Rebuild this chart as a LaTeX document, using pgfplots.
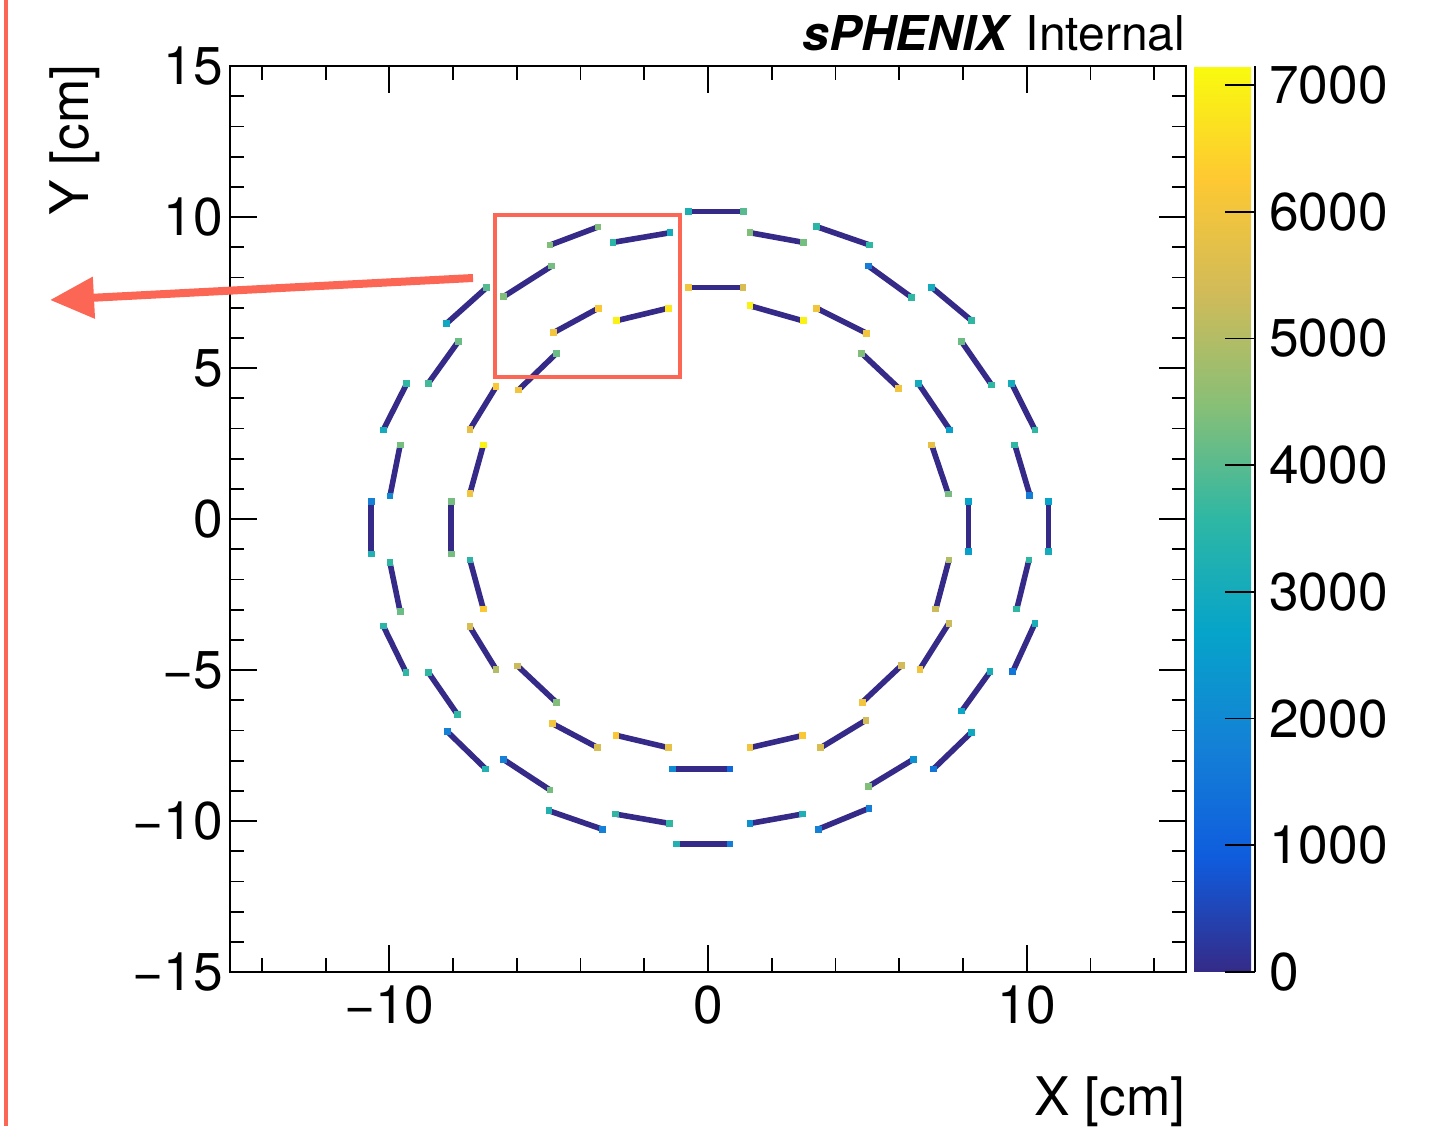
\documentclass[border=0pt]{standalone}
\usepackage{pgfplots}
\pgfplotsset{compat=1.18}
\usepackage{pgfplotstable}
\usepackage{fontspec}
\setmainfont{TeX Gyre Heros}
\usetikzlibrary{arrows.meta}
\definecolor{annot}{RGB}{252,102,84}
\definecolor{ladder}{rgb}{0.2082,0.1664,0.5293}

% each ladder: start point (x1,y1) with end-pixel content m1, end point (x2,y2) with m2
\pgfplotstableread{
x1 y1 m1 x2 y2 m2
-0.62 10.18 3200 1.11 10.18 4000
1.32 9.48 4400 2.99 9.16 4300
3.41 9.68 3500 5.08 9.07 3600
5.03 8.38 1700 6.39 7.34 3600
7.02 7.67 3000 8.27 6.57 3600
7.96 5.87 4200 8.90 4.44 3600
9.53 4.49 3000 10.26 2.95 3600
9.63 2.45 3600 10.10 0.79 1700
10.68 0.57 2700 10.68 -1.08 3000
10.07 -1.36 3600 9.69 -2.98 3600
10.26 -3.45 3100 9.56 -5.06 1500
8.85 -5.06 3100 7.96 -6.36 2800
8.27 -7.06 2900 7.07 -8.28 1500
6.44 -7.96 2200 5.03 -8.86 4400
5.05 -9.58 1700 3.46 -10.27 1800
2.96 -9.77 3200 1.32 -10.08 2200
-1.00 -10.76 3300 0.69 -10.76 1700
-2.91 -9.77 3600 -1.21 -10.08 3600
-4.99 -9.66 3300 -3.32 -10.27 1800
-6.42 -7.96 1800 -4.96 -8.97 4300
-8.18 -7.04 1800 -6.97 -8.28 3300
-8.78 -5.07 3600 -7.87 -6.46 3600
-10.19 -3.54 3500 -9.48 -5.07 3600
-9.98 -1.45 3600 -9.66 -3.07 4200
-10.57 0.57 1800 -10.57 -1.16 3300
-9.98 0.76 2000 -9.66 2.45 4300
-10.19 2.95 3000 -9.45 4.49 3600
-8.78 4.49 3800 -7.84 5.87 4200
-8.20 6.48 2900 -6.94 7.67 4000
-6.42 7.36 4400 -4.90 8.38 4300
-4.96 9.07 4400 -3.45 9.67 4400
-2.98 9.16 3500 -1.19 9.48 3000
-0.60 7.66 6000 1.10 7.66 5500
1.32 7.06 7000 2.99 6.56 7000
3.41 6.98 6000 4.98 6.15 6000
4.82 5.49 4400 5.99 4.33 6000
6.60 4.49 3000 7.59 2.95 2600
7.02 2.45 5800 7.54 0.83 4300
8.17 0.57 2700 8.17 -1.08 2600
7.56 -1.36 5000 7.15 -2.98 5300
7.56 -3.45 5300 6.65 -4.97 6000
6.06 -4.86 5400 4.84 -6.07 6000
4.96 -6.66 5400 3.54 -7.57 5500
2.96 -7.17 6200 1.32 -7.57 6000
-1.11 -8.28 2000 0.69 -8.28 1200
-2.89 -7.16 6200 -1.25 -7.57 5800
-4.89 -6.77 6000 -3.46 -7.57 5500
-5.97 -4.87 5300 -4.75 -6.08 4400
-7.47 -3.57 5500 -6.65 -4.98 5000
-7.47 -1.36 3500 -7.05 -2.98 6200
-8.06 0.57 4300 -8.06 -1.16 4300
-7.47 0.85 6000 -7.05 2.45 7000
-7.47 2.97 5800 -6.65 4.38 6200
-5.95 4.27 6000 -4.75 5.49 4200
-4.85 6.17 6000 -3.44 6.98 6200
-2.86 6.57 7000 -1.25 6.98 6800
}\ladders

\begin{document}
\begin{tikzpicture}
\useasboundingbox (0,0) rectangle (357.5pt,281.5pt);
\begin{axis}[
  at={(57.5pt,38.5pt)}, anchor=south west,
  scale only axis, width=239pt, height=226.5pt,
  xmin=-15, xmax=15, ymin=-15, ymax=15,
  xtick={-10,0,10}, xticklabels={−10,0,10},
  minor xtick={-14,-12,...,14},
  ytick={-15,-10,...,15}, yticklabels={−15,−10,−5,0,5,10,15},
  minor ytick={-14,-13,...,14},
  tick align=inside, tick pos=both,
  major tick length=6.75pt, minor tick length=3.4pt,
  every tick/.style={black, line width=0.45pt},
  axis line style={line width=0.6pt},
  ticklabel style={font=\fontsize{13.3}{15}\selectfont},
  yticklabel style={xshift=1.7pt},
  /pgf/number format/assume math mode=true,
  colormap={bird}{rgb=(0.2082,0.1664,0.5293) rgb=(0.0592,0.3599,0.8684) rgb=(0.0780,0.5041,0.8385) rgb=(0.0232,0.6419,0.7914) rgb=(0.1802,0.7178,0.6425) rgb=(0.5301,0.7492,0.4662) rgb=(0.8186,0.7328,0.3499) rgb=(0.9956,0.7862,0.1968) rgb=(0.9764,0.9832,0.0539)},
  point meta min=0, point meta max=7150,
  colorbar,
  colorbar style={
    at={(parent axis.north east)}, anchor=north west, xshift=-6.5pt,
    width=15.25pt,
    ytick={0,1000,...,7000},
    yticklabels={0,1000,2000,3000,4000,5000,6000,7000},
    scaled y ticks=false,
    tick align=inside, major tick length=7.5pt,
    every tick/.style={black, line width=0.45pt},
    axis y line*=right, axis x line=none,
    axis line style={line width=0.6pt},
    yticklabel style={font=\fontsize{13.3}{15}\selectfont},
    /pgf/number format/assume math mode=true,
  },
]
\addplot[ladder, line width=1.4pt,
  quiver={u=\thisrow{x2}-\thisrow{x1}, v=\thisrow{y2}-\thisrow{y1}}]
  table[x=x1, y=y1] {\ladders};
\addplot[scatter, only marks, mark=square*, mark size=0.65pt,
  point meta=explicit,
  scatter/use mapped color={draw=mapped color, fill=mapped color}]
  table[x=x1, y=y1, meta=m1] {\ladders};
\addplot[scatter, only marks, mark=square*, mark size=0.65pt,
  point meta=explicit,
  scatter/use mapped color={draw=mapped color, fill=mapped color}]
  table[x=x2, y=y2, meta=m2] {\ladders};
\end{axis}
\node[anchor=base east, inner sep=0pt, font=\fontsize{12}{14}\selectfont] at (296.5pt,268.75pt) {\textbf{\textit{sPHENIX}} Internal};
\node[anchor=base east, inner sep=0pt, font=\fontsize{13.3}{15}\selectfont] at (296.5pt,2.75pt) {X [cm]};
\node[rotate=90, anchor=base east, inner sep=0pt, font=\fontsize{13.3}{15}\selectfont] at (22pt,265.5pt) {Y [cm]};
\draw[annot, line width=1pt] (123.75pt,227.75pt) rectangle (170pt,187.25pt);
\draw[annot, line width=2pt, -{Triangle[length=11pt,width=10pt]}] (118.25pt,212pt) -- (12.5pt,206.5pt);
\draw[annot, line width=1pt] (1.5pt,0pt) -- (1.5pt,281.5pt);
\end{tikzpicture}
\end{document}
